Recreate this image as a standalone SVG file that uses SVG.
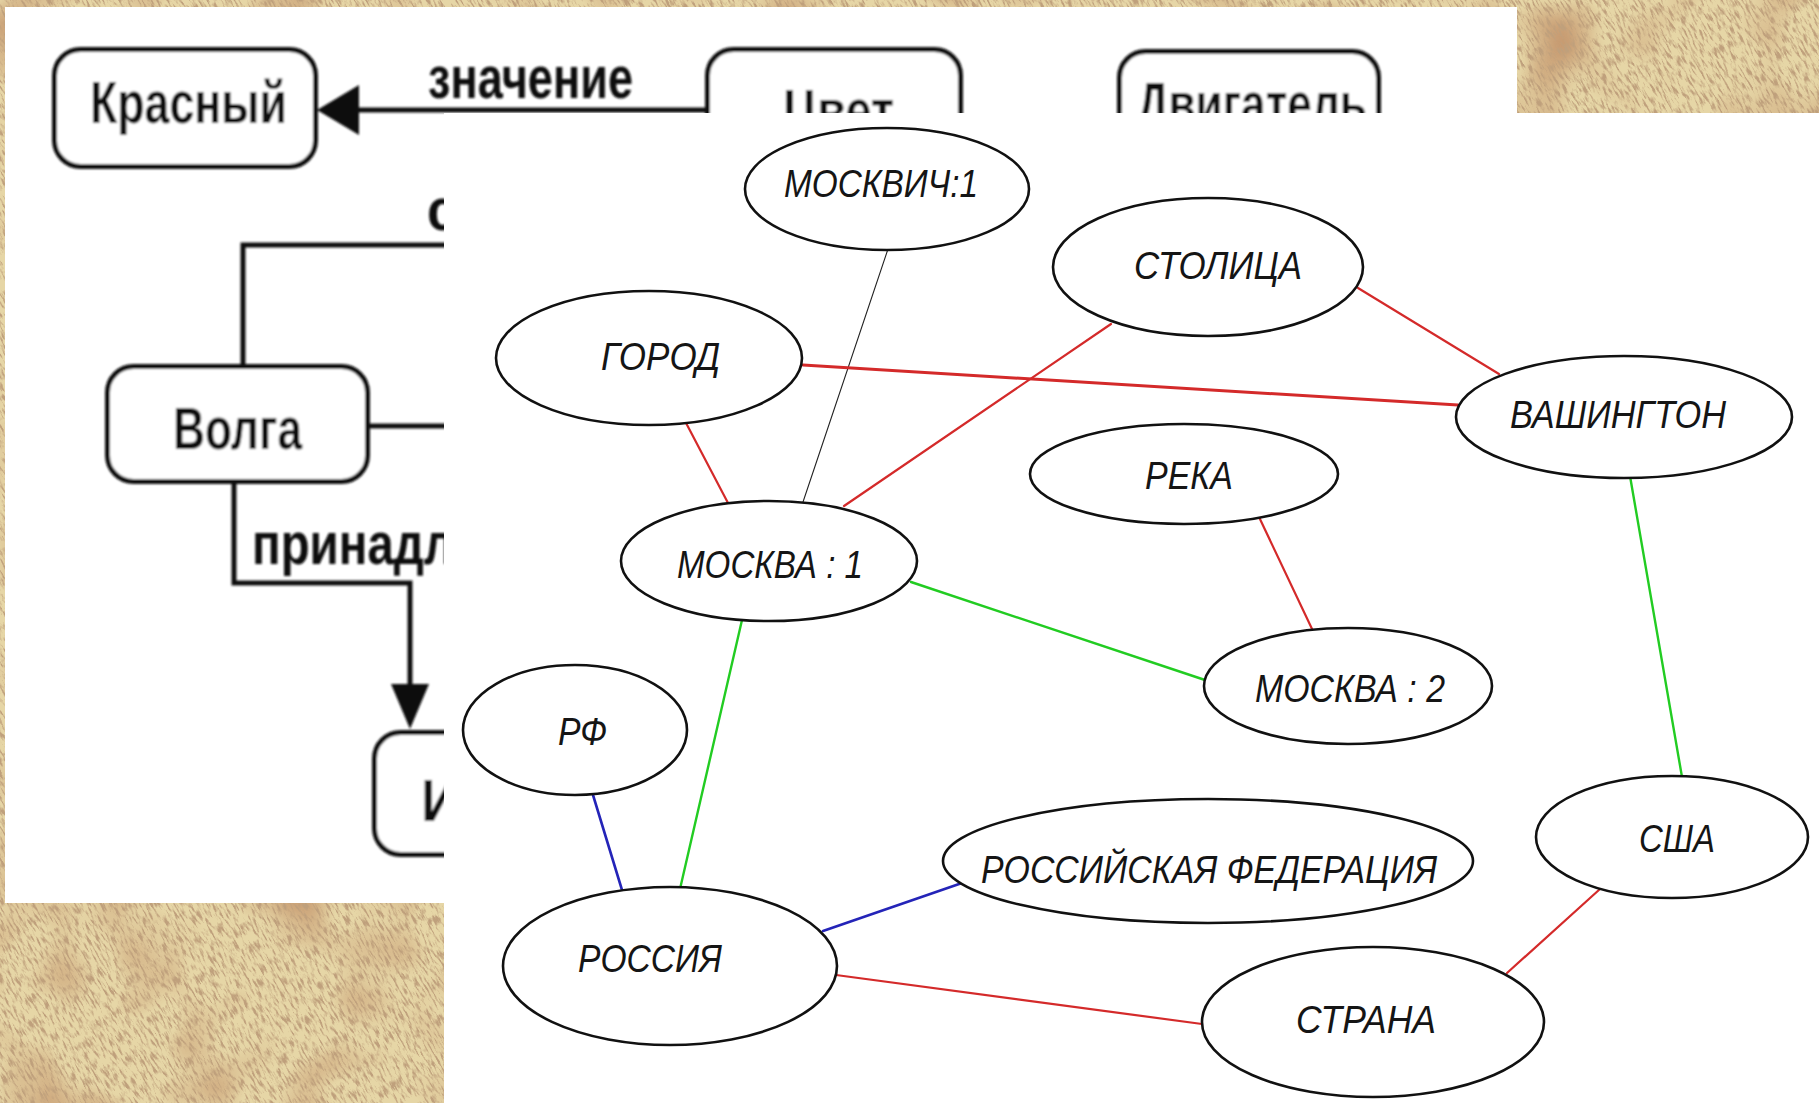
<svg xmlns="http://www.w3.org/2000/svg" width="1819" height="1103" viewBox="0 0 1819 1103">
<defs>
<style>
.bx{fill:#fff;stroke:#111;stroke-width:5}
.bt{font-family:"Liberation Sans",Arial,sans-serif;font-weight:bold;font-size:60px;fill:#111}
.ln{fill:none;stroke:#111;stroke-width:5}
.nd ellipse{fill:#fff;stroke:#111;stroke-width:2.6}
.nd text{font-family:"Liberation Sans",Arial,sans-serif;font-style:italic;font-size:38px;fill:#151515}
.e{fill:none;stroke-linecap:round}
.r{stroke:#d42a2a;stroke-width:2.2}
.rt{stroke:#d42a2a;stroke-width:3}
.g{stroke:#22cc22;stroke-width:2.4}
.b{stroke:#2424b8;stroke-width:2.6}
.k{stroke:#222;stroke-width:1.1}
</style>
<filter id="paper" filterUnits="userSpaceOnUse" x="-700" y="-800" width="3200" height="2700">
<feTurbulence type="fractalNoise" baseFrequency="0.5 0.09" numOctaves="4" seed="11" result="n"/>
<feColorMatrix in="n" type="matrix" values="0 0 0 0 0.52  0 0 0 0 0.35  0 0 0 0 0.2  4.2 0 0 0 -1.95"/>
</filter>
<filter id="blots" filterUnits="userSpaceOnUse" x="0" y="0" width="1819" height="1103">
<feTurbulence type="fractalNoise" baseFrequency="0.012" numOctaves="2" seed="4" result="m"/>
<feColorMatrix in="m" type="matrix" values="0 0 0 0 0.55  0 0 0 0 0.3  0 0 0 0 0.15  2.4 0 0 0 -1.15"/>
</filter>
<filter id="soft"><feGaussianBlur stdDeviation="0.9"/></filter>
</defs>

<g id="background">
<rect x="0" y="0" width="1819" height="1103" fill="#e6d6a6"/>
<rect x="0" y="0" width="1819" height="1103" fill="#fff" filter="url(#blots)"/>
<g transform="rotate(-30 900 550)">
<rect x="-600" y="-700" width="3000" height="2500" fill="#fff" filter="url(#paper)"/>
</g>
</g>

<g id="back-panel">
<rect x="5" y="7" width="1512" height="896" fill="#ffffff"/>
<g filter="url(#soft)">
<g id="back-connectors">
<line class="ln" x1="357" y1="110" x2="707" y2="110"/>
<polygon points="317,110 359,85 359,135" fill="#111"/>
<polyline class="ln" points="243,366 243,245 470,245"/>
<line class="ln" x1="370" y1="426" x2="470" y2="426"/>
<polyline class="ln" points="234,481 234,583 410,583 410,690"/>
<polygon points="410,729 391,684 429,684" fill="#111"/>
<text class="bt" x="428" y="98" textLength="205" lengthAdjust="spacingAndGlyphs">значение</text>
<text class="bt" x="427" y="230" textLength="30" lengthAdjust="spacingAndGlyphs">с</text>
<text class="bt" x="252" y="564" textLength="202" lengthAdjust="spacingAndGlyphs">принадл</text>
</g>
<g id="krasny"><rect class="bx" x="54.5" y="49.5" width="261" height="117" rx="26"/><text class="bt" x="90" y="123" textLength="197" lengthAdjust="spacingAndGlyphs">Красный</text></g>
<g id="tsvet"><rect class="bx" x="707.5" y="49.5" width="253" height="118" rx="26"/><text class="bt" x="783" y="131" textLength="111" lengthAdjust="spacingAndGlyphs">Цвет</text></g>
<g id="dvigatel"><rect class="bx" x="1119.5" y="51.5" width="259" height="116" rx="26"/><text class="bt" x="1137" y="124" textLength="230" lengthAdjust="spacingAndGlyphs">Двигатель</text></g>
<g id="volga"><rect class="bx" x="107.5" y="366.5" width="260" height="115" rx="26"/><text class="bt" x="173" y="449" textLength="129" lengthAdjust="spacingAndGlyphs">Волга</text></g>
<g id="i-box"><rect class="bx" x="374.5" y="732.5" width="200" height="122" rx="26"/><text class="bt" x="421" y="821" textLength="40" lengthAdjust="spacingAndGlyphs">И</text></g>
</g>
</g>

<rect id="front-panel" x="444" y="113" width="1375" height="990" fill="#ffffff"/>

<g id="connectors">
<line class="e k" x1="888" y1="249" x2="803" y2="502"/>
<line class="e r" x1="685" y1="421" x2="728" y2="503"/>
<line class="e rt" x1="803" y1="365" x2="1458" y2="405"/>
<line class="e r" x1="1111" y1="324" x2="844" y2="506"/>
<line class="e r" x1="1358" y1="288" x2="1499" y2="374"/>
<line class="e g" x1="1630" y1="476" x2="1682" y2="777"/>
<line class="e r" x1="1259" y1="517" x2="1313" y2="631"/>
<line class="e g" x1="911" y1="582" x2="1205" y2="680"/>
<line class="e g" x1="742" y1="620" x2="680" y2="889"/>
<line class="e b" x1="593" y1="795" x2="622" y2="890"/>
<line class="e b" x1="823" y1="931" x2="962" y2="883"/>
<line class="e r" x1="836" y1="975" x2="1202" y2="1024"/>
<line class="e r" x1="1600" y1="889" x2="1507" y2="973"/>
</g>

<g id="moskvich1" class="nd"><ellipse cx="887" cy="189" rx="142" ry="61"/><text x="784" y="197" textLength="194" lengthAdjust="spacingAndGlyphs">МОСКВИЧ:1</text></g>
<g id="stolitsa" class="nd"><ellipse cx="1208" cy="267" rx="155" ry="69"/><text x="1134" y="279" textLength="168" lengthAdjust="spacingAndGlyphs">СТОЛИЦА</text></g>
<g id="gorod" class="nd"><ellipse cx="649" cy="358" rx="153" ry="67"/><text x="601" y="370" textLength="119" lengthAdjust="spacingAndGlyphs">ГОРОД</text></g>
<g id="vashington" class="nd"><ellipse cx="1624" cy="417" rx="168" ry="61"/><text x="1510" y="428" textLength="216" lengthAdjust="spacingAndGlyphs">ВАШИНГТОН</text></g>
<g id="reka" class="nd"><ellipse cx="1184" cy="474" rx="154" ry="50"/><text x="1145" y="489" textLength="88" lengthAdjust="spacingAndGlyphs">РЕКА</text></g>
<g id="moskva1" class="nd"><ellipse cx="769" cy="561" rx="148" ry="60"/><text x="677" y="578" textLength="186" lengthAdjust="spacingAndGlyphs">МОСКВА : 1</text></g>
<g id="moskva2" class="nd"><ellipse cx="1348" cy="686" rx="144" ry="58"/><text x="1255" y="702" textLength="190" lengthAdjust="spacingAndGlyphs">МОСКВА : 2</text></g>
<g id="rf" class="nd"><ellipse cx="575" cy="730" rx="112" ry="65"/><text x="558" y="745" textLength="49" lengthAdjust="spacingAndGlyphs">РФ</text></g>
<g id="rossiya" class="nd"><ellipse cx="670" cy="966" rx="167" ry="79"/><text x="578" y="972" textLength="144" lengthAdjust="spacingAndGlyphs">РОССИЯ</text></g>
<g id="rossiyskaya-federatsiya" class="nd"><ellipse cx="1208" cy="861" rx="265" ry="62"/><text x="981" y="883" textLength="456" lengthAdjust="spacingAndGlyphs">РОССИЙСКАЯ ФЕДЕРАЦИЯ</text></g>
<g id="ssha" class="nd"><ellipse cx="1672" cy="837" rx="136" ry="61"/><text x="1639" y="852" textLength="76" lengthAdjust="spacingAndGlyphs">США</text></g>
<g id="strana" class="nd"><ellipse cx="1373" cy="1022" rx="171" ry="75"/><text x="1296" y="1033" textLength="140" lengthAdjust="spacingAndGlyphs">СТРАНА</text></g>
</svg>
